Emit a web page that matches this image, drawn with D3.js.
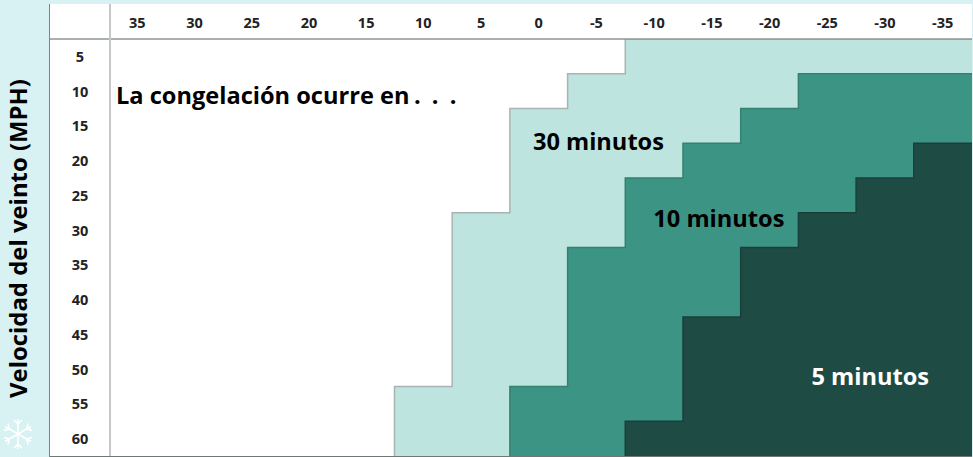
<!DOCTYPE html>
<html>
<head>
<meta charset="utf-8">
<script src="https://cdn.jsdelivr.net/npm/d3@7"></script>
<style>
  html, body { margin: 0; padding: 0; background: #d8f2f3; overflow: hidden; }
  text { font-family: "Open Sans", "Noto Sans", sans-serif; font-weight: 700; }
</style>
</head>
<body>
<div id="chart"></div>
<script>
var temps = [35, 30, 25, 20, 15, 10, 5, 0, -5, -10, -15, -20, -25, -30, -35];
var winds = [5, 10, 15, 20, 25, 30, 35, 40, 45, 50, 55, 60];

// first temperature of each zone, per wind speed (null = zone not reached)
var start30 = [-10, -5, 0, 0, 0, 5, 5, 5, 5, 5, 10, 10];
var start10 = [null, -25, -20, -15, -10, -10, -5, -5, -5, -5, 0, 0];
var start5 = [null, null, null, -35, -30, -25, -20, -20, -15, -15, -15, -10];

var zoneLabels = ["30 minutos", "10 minutos", "5 minutos"];
var title = "La congelación ocurre en";
var titleDots = ". . .";
var yTitle = "Velocidad del veinto (MPH)";

var width = 973, height = 457;
var left = 50, axisX = 110, top_ = 4, headerY = 39, bottom = 456, right = 972;

var svg = d3.select("#chart").append("svg")
  .attr("width", width)
  .attr("height", height)
  .style("display", "block");

var x = d3.scaleBand().domain(temps).range([106, 971.5]);
var y = d3.scaleBand().domain(winds).range([headerY, bottom]);

svg.append("rect")
  .attr("x", left).attr("y", top_)
  .attr("width", right - left).attr("height", bottom - top_)
  .attr("fill", "#fff");

svg.append("clipPath").attr("id", "plot")
  .append("rect")
  .attr("x", axisX).attr("y", headerY)
  .attr("width", right - axisX).attr("height", bottom - headerY);

// staircase outline for one zone
function stairs(starts) {
  var p = d3.path();
  var first = true;
  var lastX = 0;
  starts.forEach(function(t, i) {
    if (t === null) return;
    lastX = x(t);
    var yy = y(winds[i]);
    if (first) { p.moveTo(right + 10, yy); first = false; }
    p.lineTo(lastX, yy);
    p.lineTo(lastX, yy + y.bandwidth());
  });
  p.lineTo(lastX, bottom + 10);
  p.lineTo(right + 10, bottom + 10);
  p.closePath();
  return p.toString();
}

var zones = [
  { starts: start30, fill: "#bde4df", edge: "#a9b3b1" },
  { starts: start10, fill: "#3c9484", edge: "#35806f" },
  { starts: start5, fill: "#1f4b45", edge: "#1a3f3a" }
];

svg.append("g").attr("clip-path", "url(#plot)")
  .selectAll("path").data(zones).join("path")
  .attr("d", function(d) { return stairs(d.starts); })
  .attr("fill", function(d) { return d.fill; })
  .attr("stroke", function(d) { return d.edge; })
  .attr("stroke-width", 1.5);

// frame
svg.append("line").attr("x1", left).attr("x2", right).attr("y1", headerY).attr("y2", headerY)
  .attr("stroke", "#8f9695").attr("stroke-width", 1.5);
svg.append("line").attr("x1", axisX).attr("x2", axisX).attr("y1", top_).attr("y2", bottom)
  .attr("stroke", "#c4c8c8").attr("stroke-width", 2);
svg.append("line").attr("x1", left - 0.5).attr("x2", left - 0.5).attr("y1", top_).attr("y2", bottom + 1)
  .attr("stroke", "#7c8584").attr("stroke-width", 1);
svg.append("line").attr("x1", left).attr("x2", right).attr("y1", bottom + 0.5).attr("y2", bottom + 0.5)
  .attr("stroke", "#6f7877").attr("stroke-width", 1);

// tick labels
svg.append("g").selectAll("text").data(temps).join("text")
  .attr("x", function(d) { return x(d) + x.bandwidth() / 2 + (d > 10 ? (d - 10) * 0.1 : 0); })
  .attr("y", 22)
  .attr("text-anchor", "middle")
  .attr("dominant-baseline", "central")
  .attr("font-size", 14.5)
  .attr("fill", "#222")
  .text(function(d) { return d; });

svg.append("g").selectAll("text").data(winds).join("text")
  .attr("x", 80)
  .attr("y", function(d) { return y(d) + y.bandwidth() / 2; })
  .attr("text-anchor", "middle")
  .attr("dominant-baseline", "central")
  .attr("font-size", 14.5)
  .attr("fill", "#222")
  .text(function(d) { return d; });

// annotations
var titleText = svg.append("text").attr("x", 116).attr("y", 104)
  .attr("font-size", 23.6).attr("fill", "#000").text(title);
titleText.append("tspan")
  .attr("x", 414)
  .attr("word-spacing", 5)
  .text(titleDots);

svg.append("g").selectAll("text").data(zoneLabels).join("text")
  .attr("x", function(d, i) { return [x(0) + 23, x(-10) + 28, x(-25) + 13][i]; })
  .attr("y", function(d, i) { return y([15, 30, 50][i]) + [41, 14, 33][i]; })
  .attr("font-size", 23.6)
  .attr("fill", function(d, i) { return i == 2 ? "#fff" : "#000"; })
  .text(function(d) { return d; });

svg.append("text")
  .attr("transform", "translate(27,398) rotate(-90)")
  .attr("font-size", 23.9)
  .attr("fill", "#000")
  .text(yTitle);

// snowflake
var flake = svg.append("g")
  .attr("transform", "translate(18,434)")
  .attr("stroke", "#fff")
  .attr("fill", "none")
  .attr("stroke-width", 1.5);
d3.range(6).forEach(function(i) {
  flake.append("path")
    .attr("transform", "rotate(" + i * 60 + ")")
    .attr("d", "M0,0V-15M-4,-14L0,-10L4,-14");
});
</script>
</body>
</html>
